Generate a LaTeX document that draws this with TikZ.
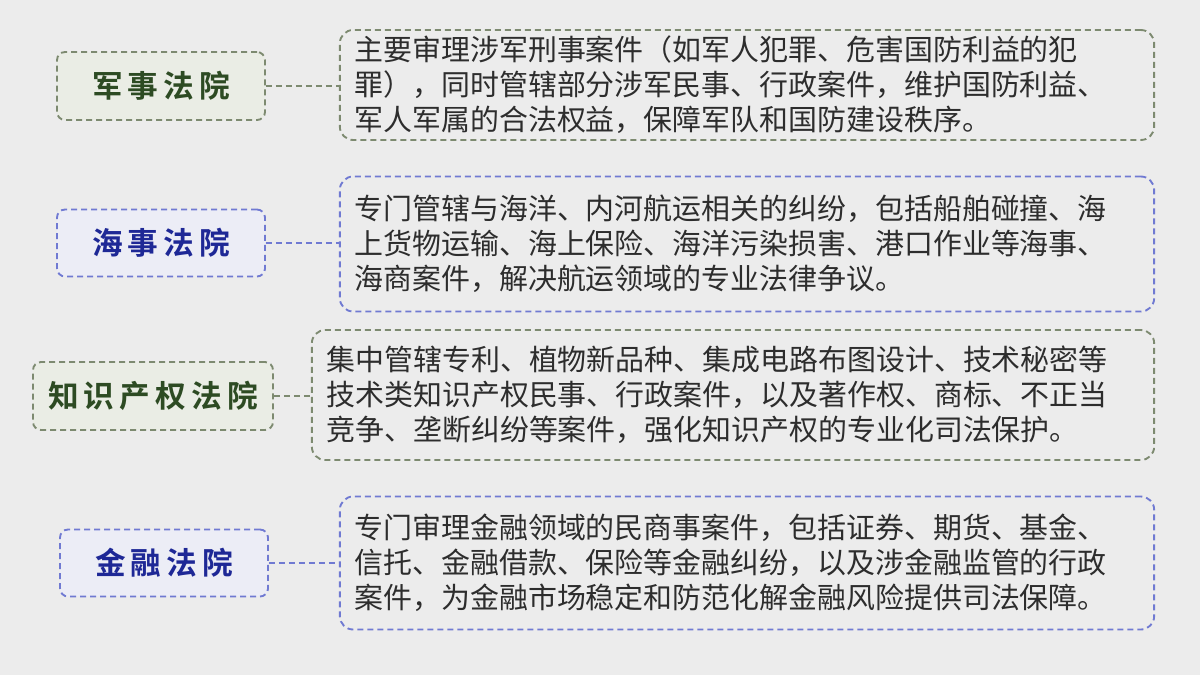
\documentclass[tikz,border=0pt]{standalone}
\usepackage{fontspec}
\setmainfont{Noto Sans CJK SC}
\newfontfamily\titlefont{Noto Sans CJK SC Bold}
\usetikzlibrary{positioning}
\definecolor{bgGray}{RGB}{236,236,236}
\definecolor{grnLine}{RGB}{125,138,112}
\definecolor{grnFill}{RGB}{234,237,229}
\definecolor{grnText}{RGB}{45,75,35}
\definecolor{bluLine}{RGB}{112,122,210}
\definecolor{bluFill}{RGB}{236,237,246}
\definecolor{bluText}{RGB}{30,40,150}
\definecolor{bodyText}{RGB}{45,45,45}
\begin{document}
\begin{tikzpicture}[x=0.75pt,y=-0.75pt,
court/.style = {draw, dash pattern=on 4.5pt off 3pt, line width=1.4pt, rounded corners=6pt, inner sep=0pt,
                font=\titlefont\fontsize{23}{26}\selectfont},
grncourt/.style = {court, draw=grnLine, fill=grnFill, text=grnText},
blucourt/.style = {court, draw=bluLine, fill=bluFill, text=bluText},
desc/.style = {draw, dash pattern=on 4.5pt off 3pt, line width=1.4pt, rounded corners=10pt,
               inner xsep=11pt, inner ysep=0pt,
               align=left, text=bodyText, font=\fontsize{21.7}{26.3}\selectfont},
grndesc/.style = {desc, draw=grnLine},
bludesc/.style = {desc, draw=bluLine},
link/.style = {dash pattern=on 4.5pt off 3pt, line width=1.4pt}]

\fill[bgGray] (0,0) rectangle (1200,675);

% courts
\node[grncourt, minimum width=208*0.75pt, minimum height=68*0.75pt] (military) at (161,86) {军\,事\,法\,院};
\node[blucourt, minimum width=208*0.75pt, minimum height=67*0.75pt] (maritime) at (161,243) {海\,事\,法\,院};
\node[grncourt, minimum width=240*0.75pt, minimum height=68*0.75pt] (ip) at (153,396) {知\,识\,产\,权\,法\,院};
\node[blucourt, minimum width=208*0.75pt, minimum height=67*0.75pt] (finance) at (164,563) {金\,融\,法\,院};

% descriptions
\node[grndesc, text width=785*0.75pt, minimum height=110*0.75pt] (militaryTxt) at (747,85)
  {主要审理涉军刑事案件（如军人犯罪、危害国防利益的犯\\罪），同时管辖部分涉军民事、行政案件，维护国防利益、\\军人军属的合法权益，保障军队和国防建设秩序。};
\node[bludesc, text width=785*0.75pt, minimum height=135*0.75pt] (maritimeTxt) at (747,244)
  {专门管辖与海洋、内河航运相关的纠纷，包括船舶碰撞、海\\上货物运输、海上保险、海洋污染损害、港口作业等海事、\\海商案件，解决航运领域的专业法律争议。};
\node[grndesc, text width=813*0.75pt, minimum height=130*0.75pt] (ipTxt) at (733,395)
  {集中管辖专利、植物新品种、集成电路布图设计、技术秘密等\\技术类知识产权民事、行政案件，以及著作权、商标、不正当\\竞争、垄断纠纷等案件，强化知识产权的专业化司法保护。};
\node[bludesc, text width=785*0.75pt, minimum height=133*0.75pt] (financeTxt) at (747,563)
  {专门审理金融领域的民商事案件，包括证券、期货、基金、\\信托、金融借款、保险等金融纠纷，以及涉金融监管的行政\\案件，为金融市场稳定和防范化解金融风险提供司法保障。};

% links
\draw[link, grnLine] (military) -- (militaryTxt.west |- military);
\draw[link, bluLine] (maritime) -- (maritimeTxt.west |- maritime);
\draw[link, grnLine] (ip) -- (ipTxt.west |- ip);
\draw[link, bluLine] (finance) -- (financeTxt.west |- finance);
\end{tikzpicture}
\end{document}
